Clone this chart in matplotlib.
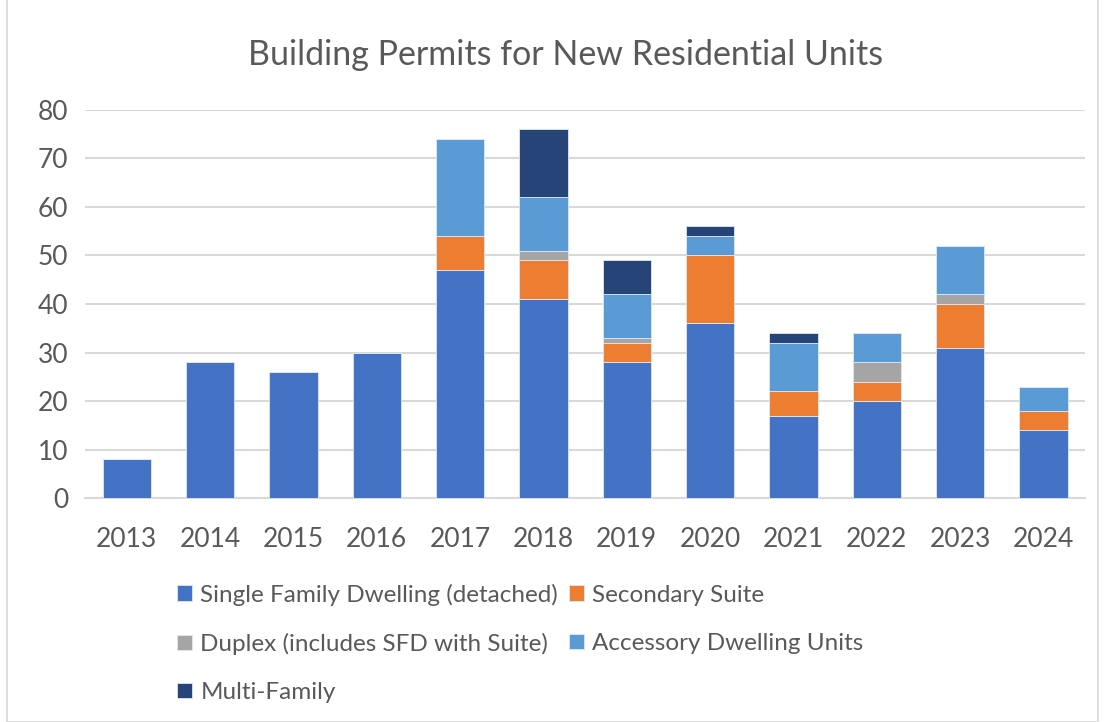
import numpy as np
import matplotlib.pyplot as plt
from matplotlib.patches import Rectangle

years = ['2013', '2014', '2015', '2016', '2017', '2018',
         '2019', '2020', '2021', '2022', '2023', '2024']
sfd = [8, 28, 26, 30, 47, 41, 28, 36, 17, 20, 31, 14]
suite = [0, 0, 0, 0, 7, 8, 4, 14, 5, 4, 9, 4]
duplex = [0, 0, 0, 0, 0, 2, 1, 0, 0, 4, 2, 0]
adu = [0, 0, 0, 0, 20, 11, 9, 4, 10, 6, 10, 5]
multi = [0, 0, 0, 0, 0, 14, 7, 2, 2, 0, 0, 0]

series = [
    ('Single Family Dwelling (detached)', sfd, '#4472C4'),
    ('Secondary Suite', suite, '#ED7D31'),
    ('Duplex (includes SFD with Suite)', duplex, '#A5A5A5'),
    ('Accessory Dwelling Units', adu, '#5B9BD5'),
    ('Multi-Family', multi, '#264478'),
]

plt.rcParams['font.family'] = ['Lato', 'DejaVu Sans']
text_col = '#595959'

fig = plt.figure(figsize=(11.05, 7.22), dpi=100)
ax = fig.add_axes([0.077, 0.31, 0.905, 0.538])

x = np.arange(len(years))
bottom = np.zeros(len(years))
handles = {}
for name, vals, col in series:
    vals = np.array(vals, dtype=float)
    b = ax.bar(x, vals, 0.58, bottom=bottom, color=col, label=name,
               edgecolor='#dfe8f5', linewidth=0.6, zorder=3)
    handles[name] = b
    bottom += vals

ax.set_ylim(0, 80)
ax.set_xlim(-0.5, len(years) - 0.5)
ax.set_yticks(range(0, 81, 10))
ax.set_xticks(x)
ax.set_xticklabels(years)
ax.yaxis.grid(True, color='#d9d9d9', linewidth=1.5, zorder=0)
for s in ['top', 'right', 'left']:
    ax.spines[s].set_visible(False)
ax.spines['bottom'].set_color('#d9d9d9')
ax.spines['bottom'].set_linewidth(1.5)
ax.tick_params(axis='both', length=0, labelsize=19, colors=text_col)
ax.tick_params(axis='x', pad=21)
ax.tick_params(axis='y', pad=12)

fig.text(0.512, 0.924, 'Building Permits for New Residential Units',
         ha='center', va='center', fontsize=24.5, color=text_col)

order = ['Single Family Dwelling (detached)', 'Duplex (includes SFD with Suite)',
         'Multi-Family', 'Secondary Suite', 'Accessory Dwelling Units']
fig.legend([handles[n] for n in order], order, ncol=2, loc='center',
           bbox_to_anchor=(0.471, 0.109), frameon=False, fontsize=17.5,
           labelcolor=text_col, handlelength=0.6, handleheight=0.6,
           handletextpad=0.35, columnspacing=0.45, labelspacing=1.12)

fig.patches.append(Rectangle((0.006, 0.0), 0.988, 1.2, transform=fig.transFigure,
                             fill=False, edgecolor='#d9d9d9', linewidth=1.2))

fig.savefig('out.png', dpi=100)
